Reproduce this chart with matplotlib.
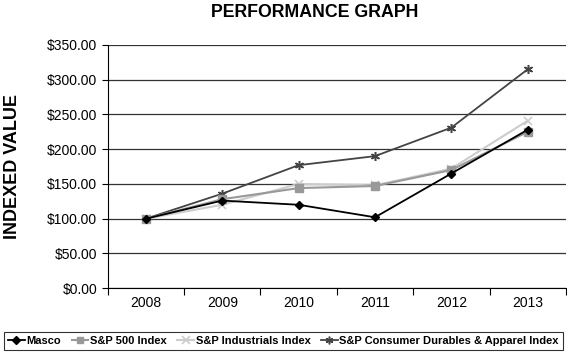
import numpy as np
import matplotlib
matplotlib.use('Agg')
from matplotlib import pyplot as plt

plt.rcParams['font.family'] = ['Liberation Sans', 'DejaVu Sans']

# =========================================================
years = ['2008', '2009', '2010', '2011', '2012', '2013']
masco = [100, 126, 120, 102, 165, 228]
sp500 = [100, 128, 144, 147, 170, 225]
industrials = [100, 120, 150, 148, 172, 241]
consumer = [100, 136, 177, 190, 231, 315]
yticks = [0, 50, 100, 150, 200, 250, 300, 350]

# =========================================================
fig = plt.figure(figsize=(5.67, 3.54), dpi=100)
ax = fig.add_axes([0.19, 0.186, 0.808, 0.687])
xx = np.arange(len(years))

ax.plot(xx, industrials, color='#cccccc', lw=1.5, marker='x', ms=6, mew=1.2,
        label='S&P Industrials Index', zorder=3)
ax.plot(xx, sp500, color='#999999', lw=1.5, marker='s', ms=5.5,
        label='S&P 500 Index', zorder=4)
ax.plot(xx, consumer, color='#444444', lw=1.3, marker=(6, 2, 0), ms=6.5, mew=1.1,
        label='S&P Consumer Durables & Apparel Index', zorder=3)
ax.plot(xx, masco, color='black', lw=1.3, marker='D', ms=4.5,
        label='Masco', zorder=5)

ax.set_xlim(-0.5, len(years) - 0.5)
ax.set_ylim(0, 350)
ax.set_yticks(yticks)
ax.set_yticklabels([f'${v:.2f}' for v in yticks], fontsize=10)
ax.set_xticks(np.arange(-0.5, len(years)), labels=[])
ax.set_xticks(xx, labels=years, minor=True, fontsize=10)
ax.tick_params(axis='x', which='minor', length=0, pad=6)
ax.tick_params(axis='x', which='major', length=5, direction='out')
ax.tick_params(axis='y', length=4, direction='out')
ax.grid(axis='y', color='#333333', lw=0.9)
ax.set_axisbelow(True)
for s in ['top', 'right']:
    ax.spines[s].set_visible(False)

ax.set_ylabel('INDEXED VALUE', fontsize=13, fontweight='bold')
ax.yaxis.set_label_coords(-0.19, 0.5)
fig.suptitle('PERFORMANCE GRAPH', fontsize=12.8, fontweight='bold', x=0.555, y=0.99)

hh, ll = ax.get_legend_handles_labels()
order = [3, 1, 0, 2]
leg = fig.legend([hh[i] for i in order], [ll[i] for i in order],
                 loc='lower center', bbox_to_anchor=(0.5, 0.005), ncol=4,
                 frameon=True, fancybox=False, edgecolor='black',
                 prop={'weight': 'bold', 'size': 8}, handlelength=1.5,
                 handletextpad=0.15, columnspacing=0.95, borderpad=0.35,
                 borderaxespad=0.2, markerscale=0.85)
leg.get_frame().set_linewidth(0.8)

fig.savefig('out.png', dpi=100)
